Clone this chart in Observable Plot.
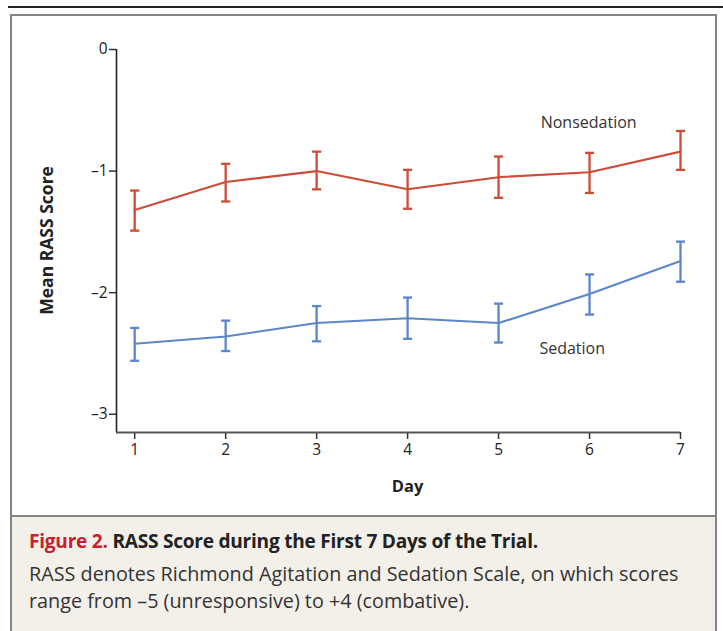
<!DOCTYPE html>
<html>
<head>
<meta charset="utf-8">
<script src="https://cdn.jsdelivr.net/npm/d3@7"></script>
<script src="https://cdn.jsdelivr.net/npm/@observablehq/plot@0.6"></script>
<style>
  html, body { margin: 0; padding: 0; background: #fff; }
  body { width: 723px; height: 631px; position: relative; overflow: hidden; font-family: "Open Sans", Lato, sans-serif; }
  #topline { position: absolute; left: 8px; right: 0; top: 6px; height: 2px; background: #222; }
  #frame { position: absolute; left: 10px; top: 14px; width: 707px; height: 640px; border: 2px solid #858585; box-sizing: border-box; }
  #chart { position: absolute; left: 0; top: 0; }
  #caption { position: absolute; left: 12px; top: 515px; width: 703px; height: 120px; background: #f3f0ea; border-top: 2px solid #858585; box-sizing: border-box; }
  #cap1 { position: absolute; left: 17px; top: 11px; font-size: 19.1px; font-weight: 700; color: #222; white-space: nowrap; letter-spacing: -0.25px; }
  #cap1 .fig { color: #c8202f; }
  #cap2 { position: absolute; left: 17px; top: 43px; font-size: 19.8px; line-height: 27px; color: #333; white-space: nowrap; letter-spacing: 0px; }
</style>
</head>
<body>
<div id="topline"></div>
<div id="frame"></div>
<div id="chart"></div>
<div id="caption">
  <div id="cap1"><span class="fig">Figure 2.</span> RASS Score during the First 7 Days of the Trial.</div>
  <div id="cap2">RASS denotes Richmond Agitation and Sedation Scale, on which scores<br>range from –5 (unresponsive) to +4 (combative).</div>
</div>
<script>
const days = [1, 2, 3, 4, 5, 6, 7];
const nonsedMean  = [-1.32, -1.09, -1.00, -1.15, -1.05, -1.01, -0.84];
const nonsedUpper = [-1.16, -0.94, -0.84, -0.99, -0.88, -0.85, -0.67];
const nonsedLower = [-1.49, -1.25, -1.15, -1.31, -1.22, -1.18, -0.99];
const sedMean  = [-2.42, -2.36, -2.25, -2.21, -2.25, -2.01, -1.74];
const sedUpper = [-2.29, -2.23, -2.11, -2.04, -2.09, -1.85, -1.58];
const sedLower = [-2.56, -2.48, -2.40, -2.38, -2.41, -2.18, -1.91];
const yTicks = [0, -1, -2, -3];
const groups = ["Nonsedation", "Sedation"];
const colors = ["#cc4c36", "#5b87c8"];

const rows = [];
days.forEach((d, i) => {
  rows.push({group: groups[0], day: d, mean: nonsedMean[i], hi: nonsedUpper[i], lo: nonsedLower[i]});
  rows.push({group: groups[1], day: d, mean: sedMean[i], hi: sedUpper[i], lo: sedLower[i]});
});

const cap = 0.05;
const color = {domain: groups, range: colors};
const xMin = 0.8, yMin = -3.15;
const font = "'Open Sans', Lato, sans-serif";

const plot = Plot.plot({
  width: 723,
  height: 515,
  marginLeft: 116,
  marginRight: 43,
  marginTop: 49,
  marginBottom: 83,
  x: {domain: [xMin, 7]},
  y: {domain: [yMin, 0]},
  color,
  style: {fontFamily: font, fontSize: "15px", color: "#222", background: "transparent"},
  marks: [
    Plot.axisY({ticks: yTicks, tickSize: 7, tickPadding: 2, tickFormat: d => d === 0 ? "0" : "–" + Math.abs(d), label: null, stroke: "#333", strokeWidth: 1.5, fontSize: 15.5, fill: "#222"}),
    Plot.axisX({ticks: days, tickSize: 7, tickPadding: 4, tickFormat: d => String(d), label: null, stroke: "#333", strokeWidth: 1.5, fontSize: 15.5, fill: "#222"}),
    Plot.ruleX([xMin], {y1: yMin, y2: 0, stroke: "#222", strokeWidth: 1.6}),
    Plot.ruleY([yMin], {x1: xMin, x2: 7, stroke: "#555", strokeWidth: 2}),
    Plot.line(rows, {x: "day", y: "mean", z: "group", stroke: "group", strokeWidth: 2.1}),
    Plot.ruleX(rows, {x: "day", y1: "lo", y2: "hi", stroke: "group", strokeWidth: 2.3}),
    Plot.link(rows, {x1: d => d.day - cap, x2: d => d.day + cap, y1: "hi", y2: "hi", stroke: "group", strokeWidth: 2.3}),
    Plot.link(rows, {x1: d => d.day - cap, x2: d => d.day + cap, y1: "lo", y2: "lo", stroke: "group", strokeWidth: 2.3}),
    Plot.text([groups[0]], {x: 5.99, y: -0.6, text: d => d, fontSize: 16, fill: "#333"}),
    Plot.text([groups[1]], {x: 5.81, y: -2.46, text: d => d, fontSize: 16, fill: "#333"}),
    Plot.text(["Mean RASS Score"], {frameAnchor: "left", dx: -69, y: -1.57, rotate: -90, textAnchor: "middle", text: d => d, fontSize: 17.5, fontWeight: "bold", fill: "#222"}),
    Plot.text(["Day"], {x: 4, frameAnchor: "bottom", dy: 59, text: d => d, fontSize: 16.5, fontWeight: "bold", fill: "#222"})
  ]
});
document.getElementById("chart").appendChild(plot);
</script>
</body>
</html>
